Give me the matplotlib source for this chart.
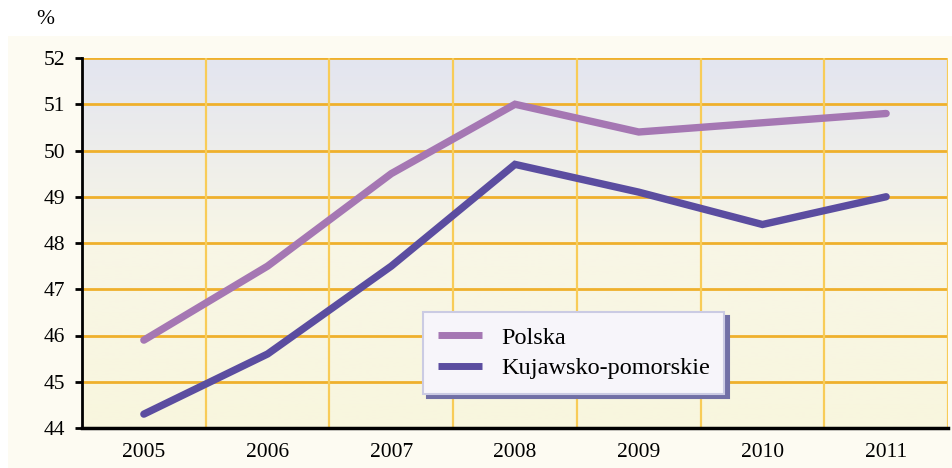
import matplotlib

matplotlib.use("Agg")
import matplotlib.pyplot as plt
import numpy as np
from matplotlib.colors import LinearSegmentedColormap
from matplotlib.patches import Rectangle

years = ["2005", "2006", "2007", "2008", "2009", "2010", "2011"]
polska = [45.9, 47.5, 49.5, 51.0, 50.4, 50.6, 50.8]
kujawsko = [44.3, 45.6, 47.5, 49.7, 49.1, 48.4, 49.0]
y_ticks = [44, 45, 46, 47, 48, 49, 50, 51, 52]

plt.rcParams["font.family"] = ["Liberation Serif", "DejaVu Serif"]

fig = plt.figure(figsize=(9.52, 4.68), dpi=100)
fig.patches.append(
    Rectangle((8 / 952, 0), 1, 1 - 36 / 468, transform=fig.transFigure,
              facecolor="#FDFBF2", edgecolor="none", zorder=-10)
)
ax = fig.add_axes([82 / 952, 40 / 468, 866 / 952, 370 / 468])
ax.set_facecolor("none")

x = np.arange(len(years))
ax.set_xlim(-0.5, len(years) - 0.5)
ax.set_ylim(44, 52)

# background gradient: lavender on top, pale yellow at bottom
grad = LinearSegmentedColormap.from_list("bg", ["#F9F6DE", "#F8F6E6", "#E3E5F0"])
ax.imshow(np.linspace(0, 1, 256).reshape(-1, 1), cmap=grad, aspect="auto",
          origin="lower", extent=(-0.5, len(years) - 0.5, 44, 52), zorder=0)

for yv in y_ticks:
    ax.axhline(yv, color="#EFB02C", lw=2, zorder=1)
for xv in np.arange(0.5, len(years), 1.0):
    ax.axvline(xv, color="#F8CC58", lw=1.6, zorder=1)

ax.plot(x, polska, color="#A577B3", lw=5.3, solid_capstyle="round",
        solid_joinstyle="miter", label="Polska", zorder=3)
ax.plot(x, kujawsko, color="#5B4DA0", lw=5.3, solid_capstyle="round",
        solid_joinstyle="miter", label="Kujawsko-pomorskie", zorder=3)

ax.set_xticks(x)
ax.set_xticklabels(years, fontsize=15.5)
ax.set_yticks(y_ticks)
ax.set_yticklabels([str(v) for v in y_ticks], fontsize=15.5)
ax.tick_params(axis="x", length=0, pad=11)
ax.tick_params(axis="y", length=5, width=2, direction="out", pad=7)

for side in ["top", "right"]:
    ax.spines[side].set_visible(False)
ax.spines["left"].set_linewidth(2)
ax.spines["bottom"].set_linewidth(2.5)
ax.spines["left"].set_zorder(4)
ax.spines["bottom"].set_zorder(4)

leg = ax.legend(loc="lower left", bbox_to_anchor=(0.380, 0.060), fontsize=17.5,
                frameon=True, fancybox=False, handlelength=1.8, handletextpad=0.8,
                borderpad=0.6, borderaxespad=0.5, labelspacing=0.35,
                shadow={"color": "#7270A6", "alpha": 1, "ox": 3, "oy": -3})
leg.get_frame().set_facecolor("#F7F5FA")
leg.get_frame().set_edgecolor("#CBCBE3")
leg.get_frame().set_linewidth(1.5)
leg._legend_box.sep = 0
for line in leg.get_lines():
    line.set_solid_capstyle("butt")
    line.set_linewidth(5)
leg.set_zorder(5)

fig.text(45 / 952, 1 - 20 / 468, "%", fontsize=15.5, ha="center", va="center")

fig.savefig("out.png", dpi=100)
